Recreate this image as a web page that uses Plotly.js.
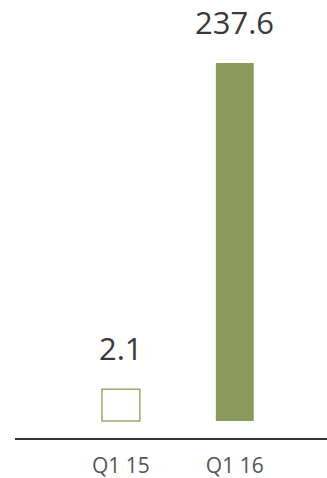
<!DOCTYPE html>
<html><head><meta charset="utf-8">
<script src="https://cdn.plot.ly/plotly-3.0.1.min.js"></script>
<style>html,body{margin:0;padding:0;background:#fff}#c{width:327px;height:478px}</style>
</head><body><div id="c"></div>
<script>
const categories = ["Q1 15", "Q1 16"];
const values = [2.1, 237.6];
const valueLabels = ["2.1", "237.6"];

// style: small values are drawn with a minimum visible box height (as in the original)
const minVisible = 21;
const shown = values.map(v => Math.max(v, minVisible));
const green = "#8b9a5c";

const trace = {
  type: "bar",
  x: categories,
  y: shown,
  marker: {
    color: values.map((v, i) => i === 0 ? "#ffffff" : green),
    line: {color: values.map((v, i) => i === 0 ? "#9aaa6e" : green), width: values.map((v, i) => i === 0 ? 1.5 : 0)}
  },
  hoverinfo: "none",
  cliponaxis: false
};

const annotations = categories.map((c, i) => ({
  x: c, y: shown[i], xref: "x", yref: "y",
  text: valueLabels[i], showarrow: false,
  yanchor: "bottom", yshift: 18,
  font: {family: "Open Sans, sans-serif", size: 31, color: "#3a3a3a"}
}));

const layout = {
  width: 327, height: 478,
  margin: {l: 15, r: 0, t: 0, b: 40},
  paper_bgcolor: "#fff", plot_bgcolor: "#fff",
  bargap: 0.667,
  showlegend: false,
  xaxis: {
    range: [-0.93, 1.81],
    showline: true, linecolor: "#333", linewidth: 1.5,
    showgrid: false, zeroline: false, ticks: "",
    tickfont: {family: "Open Sans, sans-serif", size: 21, color: "#555"},
    ticklabelstandoff: 8,
    fixedrange: true
  },
  yaxis: {
    range: [-11.28, 279.4],
    visible: false, showgrid: false, zeroline: false, fixedrange: true
  },
  annotations: annotations
};

Plotly.newPlot("c", [trace], layout, {displayModeBar: false, staticPlot: true});
</script></body></html>
